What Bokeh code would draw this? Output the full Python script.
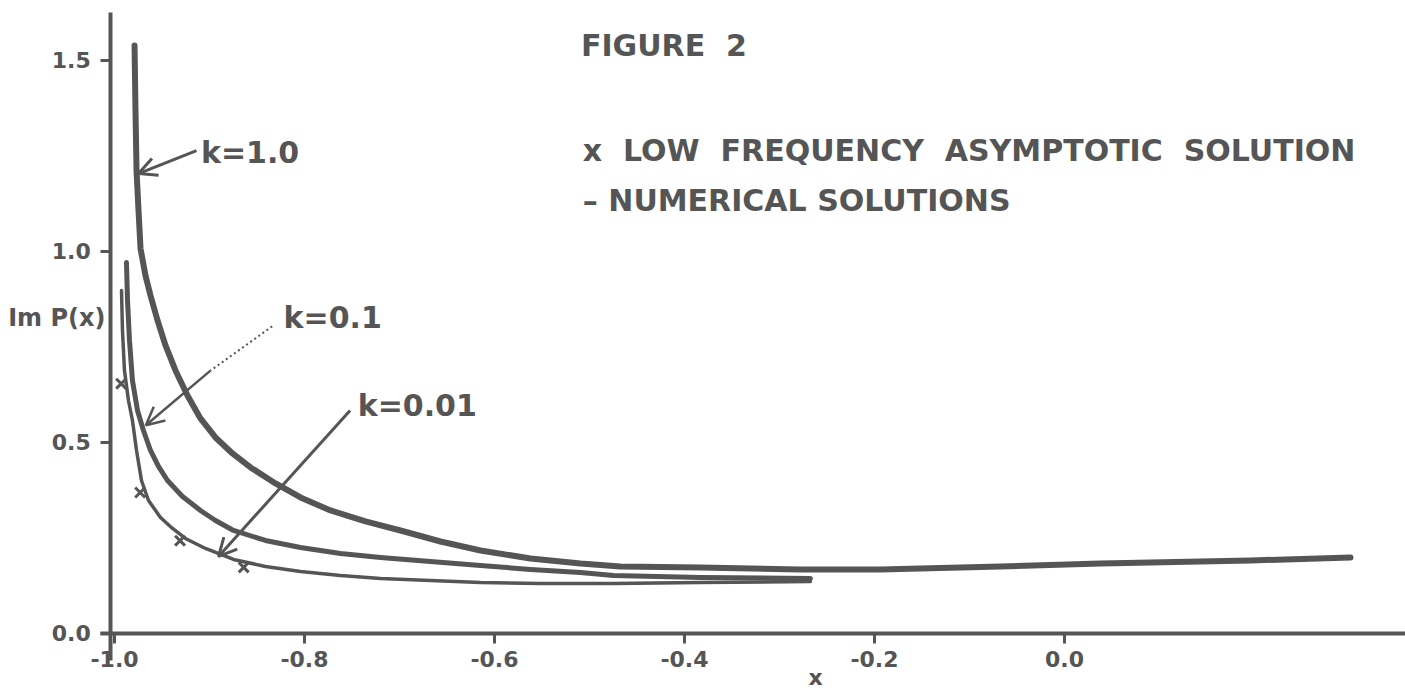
from bokeh.plotting import figure
from bokeh.models import Label, Arrow, OpenHead, FixedTicker, Range1d
from bokeh.embed import file_html
from bokeh.resources import INLINE

# ---- data ----
k1_x = [-0.9789, -0.9779, -0.9768, -0.9747, -0.9726, -0.9674, -0.9621, -0.9547,
        -0.9463, -0.9358, -0.9232, -0.9095, -0.8937, -0.8758, -0.8568, -0.8305,
        -0.8042, -0.7726, -0.7358, -0.6989, -0.6568, -0.6147, -0.5621, -0.5095,
        -0.4674, -0.3832, -0.2779, -0.1937, -0.0674, 0.0379, 0.1958, 0.3011]
k1_y = [1.5393, 1.3691, 1.2120, 1.1073, 1.0079, 0.9372, 0.8848, 0.8194,
        0.7539, 0.6885, 0.6230, 0.5628, 0.5131, 0.4712, 0.4346, 0.3927,
        0.3560, 0.3220, 0.2932, 0.2696, 0.2408, 0.2173, 0.1963, 0.1832,
        0.1754, 0.1728, 0.1675, 0.1675, 0.1754, 0.1832, 0.1911, 0.1990]

k01_x = [-0.9874, -0.9863, -0.9842, -0.9811, -0.9758, -0.9695, -0.9621, -0.9537,
         -0.9442, -0.9284, -0.9095, -0.8937, -0.8747, -0.8411, -0.8042, -0.7621,
         -0.7200, -0.6674, -0.6147, -0.5621, -0.5095, -0.4747, -0.3832, -0.2674]
k01_y = [0.9712, 0.8717, 0.7670, 0.6623, 0.5838, 0.5314, 0.4791, 0.4372,
         0.4005, 0.3586, 0.3220, 0.2958, 0.2696, 0.2435, 0.2251, 0.2094,
         0.1990, 0.1885, 0.1780, 0.1675, 0.1597, 0.1518, 0.1466, 0.1440]

k001_x = [-0.9926, -0.9916, -0.9895, -0.9853, -0.9811, -0.9768, -0.9716, -0.9642,
          -0.9516, -0.9389, -0.9253, -0.9042, -0.8747, -0.8411, -0.8042, -0.7621,
          -0.7200, -0.6674, -0.6147, -0.5516, -0.4747, -0.3832, -0.2674]
k001_y = [0.8979, 0.7932, 0.6885, 0.6099, 0.5576, 0.4791, 0.4005, 0.3482,
          0.3037, 0.2749, 0.2487, 0.2225, 0.1937, 0.1754, 0.1623, 0.1518,
          0.1440, 0.1387, 0.1335, 0.1309, 0.1309, 0.1335, 0.1361]

asym_x = [-0.993, -0.973, -0.931, -0.864]
asym_y = [0.654, 0.369, 0.243, 0.173]

x_ticks = [-1.0, -0.8, -0.6, -0.4, -0.2, 0.0]
x_tick_labels = ["-1.0", "-0.8", "-0.6", "-0.4", "-0.2", "0.0"]
y_ticks = [0.0, 0.5, 1.0, 1.5]
y_tick_labels = ["0.0", "0.5", "1.0", "1.5"]

title_text = "FIGURE\u00a0 2"
legend_asym = "x\u00a0 LOW\u00a0 FREQUENCY\u00a0 ASYMPTOTIC\u00a0 SOLUTION"
legend_num = "\u2013 NUMERICAL SOLUTIONS"
curve_labels = ["k=1.0", "k=0.1", "k=0.01"]
x_title = "x"
y_title = "Im P(x)"

INK = "#555555"
FONT = "DejaVu Sans"

p = figure(width=1405, height=696, output_backend="svg", toolbar_location=None,
           x_range=Range1d(-1.12, 0.359), y_range=Range1d(-0.165, 1.657),
           min_border=0)
p.outline_line_color = None
p.grid.visible = False
p.background_fill_color = "white"
p.border_fill_color = "white"

xa, ya = p.xaxis[0], p.yaxis[0]
xa.fixed_location = 0.0
ya.fixed_location = -1.004
xa.bounds = (-1.015, 0.359)
ya.bounds = (-0.07, 1.626)
for ax, ticks, labels in ((xa, x_ticks, x_tick_labels), (ya, y_ticks, y_tick_labels)):
    ax.ticker = FixedTicker(ticks=ticks)
    ax.major_label_overrides = {t: l for t, l in zip(ticks, labels)}
    ax.axis_line_width = 4
    ax.axis_line_color = INK
    ax.major_tick_line_color = INK
    ax.major_tick_line_width = 3
    ax.major_tick_in = 0
    ax.major_tick_out = 10
    ax.minor_tick_line_color = None
    ax.major_label_text_font = FONT
    ax.major_label_text_font_style = "bold"
    ax.major_label_text_font_size = "22px"
    ax.major_label_text_color = INK
xa.major_label_standoff = 8
ya.major_label_standoff = 10

# curves
p.line(k1_x, k1_y, line_width=6, line_color=INK, line_cap="round", line_join="round")
p.line(k01_x, k01_y, line_width=5, line_color=INK, line_cap="round", line_join="round")
p.line(k001_x, k001_y, line_width=3.5, line_color=INK, line_cap="round", line_join="round")
p.scatter(asym_x, asym_y, marker="x", size=14, line_width=3, line_color=INK)

# texts
def lab(x, y, text, size, align="left", baseline="middle", style="bold"):
    p.add_layout(Label(x=x, y=y, text=text, text_font=FONT, text_font_style=style,
                       text_font_size=size, text_color=INK, text_align=align,
                       text_baseline=baseline))

lab(-0.509, 1.539, title_text, "30px")
lab(-0.507, 1.264, legend_asym, "30px")
lab(-0.507, 1.134, legend_num, "30px")
lab(-0.909, 1.259, curve_labels[0], "30px")
lab(-0.822, 0.827, curve_labels[1], "30px")
lab(-0.744, 0.597, curve_labels[2], "30px")
lab(-1.0095, 0.825, y_title, "24px", align="right")
lab(-0.262, -0.116, x_title, "22px", align="center")

# arrows (k=0.1 pointer starts dotted, then solid)
p.add_layout(Arrow(x_start=-0.834, y_start=0.804, x_end=-0.899, y_end=0.688,
                   line_color=INK, line_width=2, line_dash="2 3", end=None))
arrows = [((-0.9137, 1.264), (-0.9747, 1.204), 3),
          ((-0.899, 0.688), (-0.967, 0.545), 2.5),
          ((-0.752, 0.584), (-0.8905, 0.2016), 3)]
for (x0, y0), (x1, y1), w in arrows:
    p.add_layout(Arrow(x_start=x0, y_start=y0, x_end=x1, y_end=y1,
                       line_color=INK, line_width=w,
                       end=OpenHead(size=18, line_color=INK, line_width=w)))

open("out.html", "w").write(file_html(p, INLINE))
